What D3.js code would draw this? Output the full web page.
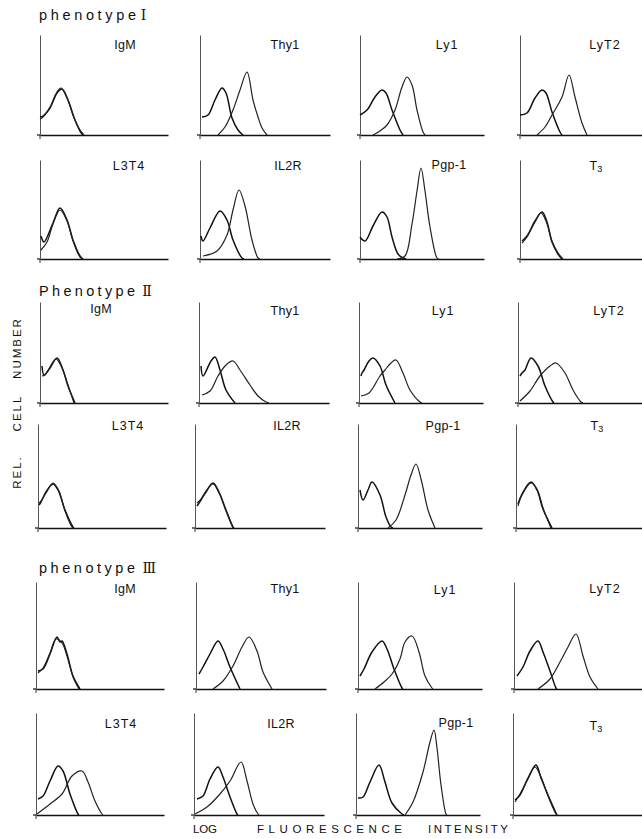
<!DOCTYPE html>
<html><head><meta charset="utf-8">
<script src="https://cdn.jsdelivr.net/npm/d3@7"></script>
<style>html,body{margin:0;padding:0;background:#fff;}svg{display:block;}</style>
</head><body>
<svg id="chart" width="642" height="839"></svg>
<script>
// ---------- DATA ----------
const phenotypeNames = ["phenotype", "Phenotype", "phenotype"];
const phenotypeNumerals = ["I", "II", "III"];
const markerRows = [["IgM", "Thy1", "Ly1", "LyT2"], ["L3T4", "IL2R", "Pgp-1", "T3"]];
const xAxisTitle = ["LOG", "FLUORESCENCE", "INTENSITY"];
const yAxisTitle = ["REL.", "CELL", "NUMBER"];

// histogram points: [log fluorescence channel, relative cell number]
const phenoI_control = [
  [[0,18],[3,19],[10,27],[17,42],[22,46],[28,35],[35,15],[40,4],[43,0]],
  [[2,18],[8,20],[15,35],[22,47],[26,42],[32,17],[38,5],[43,0]],
  [[0,20],[7,25],[15,38],[22,45],[26,42],[32,25],[40,5],[43,0]],
  [[0,20],[7,22],[15,37],[22,45],[26,42],[32,23],[40,3],[42,0]],
  [[1,23],[4,17],[13,36],[20,51],[27,39],[33,19],[40,3],[43,0]],
  [[1,23],[3,18],[10,31],[20,48],[27,39],[33,19],[42,1],[44,0]],
  [[0,22],[5,18],[13,33],[22,47],[27,42],[32,22],[38,5],[43,1],[46,0]],
  [[2,18],[7,23],[15,38],[22,47],[27,37],[32,17],[38,5],[42,0]]
];
const phenoI_stained = [
  [[0,16],[3,18],[10,28],[17,43],[21,47],[27,37],[34,17],[40,5],[44,0]],
  [[18,0],[25,8],[33,25],[40,45],[47,63],[53,35],[58,18],[62,7],[67,0]],
  [[13,0],[20,4],[27,10],[35,25],[42,48],[47,58],[52,50],[57,25],[63,3],[65,0]],
  [[17,0],[25,8],[32,20],[42,38],[49,60],[55,38],[62,12],[67,0]],
  [[1,9],[7,17],[13,35],[20,49],[27,38],[33,18],[40,2],[43,0]],
  [[3,3],[17,8],[27,24],[33,49],[39,69],[45,53],[52,19],[58,1],[60,0]],
  [[37,0],[45,3],[52,35],[57,68],[61,91],[65,68],[70,32],[77,1],[79,0]],
  [[2,16],[7,22],[15,37],[21,46],[26,38],[32,18],[38,6],[43,0]]
];
const phenoII_control = [
  [[2,37],[4,28],[10,35],[17,45],[23,33],[28,17],[35,0]],
  [[2,37],[4,27],[12,42],[16,46],[21,33],[27,13],[36,0]],
  [[2,27],[3,30],[5,33],[10,42],[14,45],[21,37],[27,18],[36,0]],
  [[2,27],[4,30],[7,33],[13,45],[20,37],[27,17],[35,1],[36,0]],
  [[1,23],[3,26],[8,36],[15,44],[20,38],[27,18],[35,1],[36,0]],
  [[2,22],[6,28],[11,36],[18,45],[24,36],[31,18],[38,1],[39,0]],
  [[2,38],[5,28],[10,38],[14,46],[22,33],[28,11],[33,1],[35,0]],
  [[2,24],[6,34],[15,46],[21,38],[27,19],[36,0]]
];
const phenoII_stained = [
  [[2,27],[5,28],[10,36],[16,44],[22,35],[28,18],[34,0]],
  [[3,8],[11,12],[19,27],[27,38],[34,42],[41,33],[51,18],[59,7],[67,1],[70,0]],
  [[2,7],[10,10],[21,27],[26,33],[32,40],[37,43],[44,30],[51,13],[61,1],[63,0]],
  [[2,2],[12,12],[22,27],[32,37],[38,40],[47,30],[55,13],[63,1],[65,0]],
  [[1,25],[3,27],[8,35],[15,45],[21,37],[27,17],[34,1],[36,0]],
  [[2,25],[6,29],[11,37],[18,44],[24,35],[31,17],[38,0]],
  [[30,0],[38,8],[47,33],[53,53],[58,64],[63,49],[70,18],[77,0]],
  [[2,22],[6,33],[15,45],[21,39],[27,20],[35,0]]
];
const phenoIII_control = [
  [[2,18],[7,20],[14,35],[21,52],[24,47],[26,48],[31,35],[37,13],[44,0]],
  [[3,15],[7,22],[14,35],[22,48],[27,40],[34,22],[44,0]],
  [[2,13],[6,20],[14,37],[24,48],[29,40],[36,20],[44,1],[45,0]],
  [[3,13],[9,22],[16,38],[24,48],[29,37],[36,18],[42,1],[43,0]],
  [[2,16],[7,19],[14,34],[22,49],[27,44],[34,21],[42,1],[43,0]],
  [[3,16],[9,19],[16,36],[24,48],[29,38],[36,18],[43,1],[44,0]],
  [[2,17],[7,18],[14,33],[23,50],[29,33],[36,12],[46,1],[48,0]],
  [[2,15],[7,20],[15,37],[23,50],[28,37],[35,20],[43,2],[44,0]]
];
const phenoIII_stained = [
  [[2,16],[7,21],[14,36],[20,50],[26,46],[31,33],[37,12],[43,0]],
  [[17,0],[27,8],[37,23],[46,42],[53,52],[61,38],[67,17],[76,0]],
  [[17,0],[26,7],[34,15],[42,30],[47,47],[54,53],[61,37],[67,13],[74,1],[75,0]],
  [[24,0],[36,10],[46,27],[54,42],[62,55],[69,33],[76,12],[84,0]],
  [[1,1],[14,11],[26,21],[36,39],[46,44],[52,33],[59,14],[66,1],[67,0]],
  [[1,1],[13,8],[26,21],[36,34],[47,53],[53,34],[59,11],[64,1],[65,0]],
  [[49,0],[57,13],[67,43],[74,73],[78,85],[81,67],[85,30],[90,1],[91,0]],
  [[2,13],[7,21],[15,36],[22,48],[28,38],[35,19],[43,1],[44,0]]
];
const controls = [phenoI_control, phenoII_control, phenoIII_control];
const stained = [phenoI_stained, phenoII_stained, phenoIII_stained];

// ---------- LAYOUT ----------
const rowBase = [135, 259, 403, 528, 689, 815];
const rowTop  = [35, 160, 302, 424, 582, 713];
const colXByRow = [
  [40, 200, 360, 520], [40, 200, 360, 520], [40, 199, 359, 518],
  [38, 195, 358, 516], [36, 196, 358, 514], [36, 194, 356, 513]
];
const colLen = [128, 130, 124, 130];
const labelX = [
  [125, 285, 447, 605], [129, 288, 449, 596], [101, 285, 443, 609],
  [128, 287, 443, 597], [125, 285, 445, 605], [121, 281, 456, 596]
];
const labelY = [
  [44, 44, 44, 44], [165, 165, 164, 165], [308, 310, 310, 310],
  [425, 425, 425, 425], [588, 588, 589, 588], [723, 723, 722, 725]
];
const titleY = [15, 291, 568];

const svg = d3.select("#chart");
svg.append("rect").attr("width", 642).attr("height", 839).attr("fill", "#fff");
const FONT = "'Liberation Sans', Arial, sans-serif";

// phenotype titles
phenotypeNames.forEach((nm, p) => {
  const t = svg.append("text").attr("x", 39).attr("y", titleY[p] + 5)
    .attr("font-family", FONT).attr("font-size", 14.5).attr("fill", "#111");
  t.append("tspan").text(nm).attr("textLength", p === 0 ? 97 : 96).attr("lengthAdjust", "spacing");
  t.append("tspan").text(phenotypeNumerals[p]).attr("dx", p === 0 ? 1 : 4)
    .attr("font-family", "'DejaVu Serif', 'Liberation Serif', serif")
    .attr("font-size", 14).attr("letter-spacing", p === 0 ? 0 : -1.5);
});

const line = d3.line().curve(d3.curveCatmullRom.alpha(0.5));

for (let r = 0; r < 6; r++) {
  const p = Math.floor(r / 2), sub = r % 2;
  for (let c = 0; c < 4; c++) {
    const idx = sub * 4 + c;
    const x0 = colXByRow[r][c];
    const x = d3.scaleLinear().domain([0, colLen[c]]).range([x0, x0 + colLen[c]]);
    const y = d3.scaleLinear().domain([0, 100]).range([rowBase[r], rowBase[r] - 100]);
    const g = svg.append("g");
    // x axis
    g.append("g").attr("transform", `translate(0,${rowBase[r]})`)
      .call(d3.axisBottom(x).tickValues([]).tickSizeOuter(0))
      .call(s => s.select(".domain").attr("stroke", "#111").attr("stroke-width", 1.6));
    // y axis
    const yAx = d3.scaleLinear().domain([0, rowBase[r] - rowTop[r]]).range([rowBase[r], rowTop[r]]);
    g.append("g").attr("transform", `translate(${x0},0)`)
      .call(d3.axisLeft(yAx).tickValues([]).tickSizeOuter(0))
      .call(s => s.select(".domain").attr("stroke", "#555").attr("stroke-width", 1));
    // small cross at origin
    g.append("line").attr("x1", x0).attr("x2", x0).attr("y1", rowBase[r]).attr("y2", rowBase[r] + 4)
      .attr("stroke", "#333").attr("stroke-width", 1);
    g.append("line").attr("x1", x0 - 3).attr("x2", x0).attr("y1", rowBase[r]).attr("y2", rowBase[r])
      .attr("stroke", "#333").attr("stroke-width", 1.4);
    // curves
    const cs = [controls[p][idx], stained[p][idx]];
    cs.forEach((pts, k) => {
      g.append("path").attr("d", line(pts.map(d => [x(d[0]), y(d[1])])))
        .attr("fill", "none").attr("stroke", k === 0 ? "#111" : "#222")
        .attr("stroke-width", k === 0 ? 1.5 : 1.2).attr("stroke-linejoin", "round");
    });
    // label
    const name = markerRows[sub][c];
    const lt = svg.append("text").attr("x", labelX[r][c]).attr("y", labelY[r][c] + 4.5)
      .attr("text-anchor", "middle").attr("font-family", FONT).attr("font-size", 12.5)
      .attr("fill", "#111").attr("letter-spacing", name === "Ly1" || name === "LyT2" || name === "L3T4" ? 1 : 0.3);
    if (name === "T3") {
      lt.append("tspan").text("T");
      lt.append("tspan").text("3").attr("font-size", 9).attr("dy", 2);
    } else {
      lt.text(name);
    }
  }
}

// y axis title (rotated)
const yPos = [472, 413, 348];
yAxisTitle.forEach((w, i) => {
  svg.append("text").attr("transform", `translate(21,${yPos[i]}) rotate(-90)`)
    .attr("text-anchor", "middle").attr("font-family", FONT).attr("font-size", 11.5)
    .attr("fill", "#111").attr("letter-spacing", 2).text(w);
});

// x axis title
const xPos = [[193, 24], [257, 145], [428, 80]];
xAxisTitle.forEach((w, i) => {
  svg.append("text").attr("x", xPos[i][0]).attr("y", 833)
    .attr("font-family", FONT).attr("font-size", 11.5).attr("fill", "#111")
    .attr("textLength", xPos[i][1]).attr("lengthAdjust", "spacing").text(w);
});
</script>
</body></html>
